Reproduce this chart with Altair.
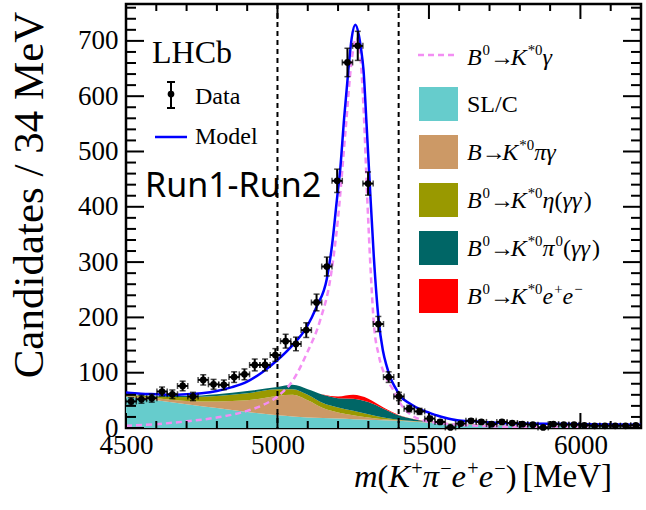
import altair as alt
import pandas as pd

SERIF = "Liberation Serif"

# ---- binned candidates (34 MeV bins from 4500 MeV) ----
bin_lo = 4500
bin_w = 34
counts = [48, 52, 54, 66, 61, 76, 57, 87, 79, 78, 92, 97, 114, 114, 132, 157, 152, 177,
          227, 292, 447, 661, 691, 442, 188, 92, 57, 35, 30, 17, 11, 1, 8, 13, 11, 7,
          11, 9, 7, 6, 1, 7, 6, 6, 5, 4, 4, 4, 4, 5]
errors = [6.9, 7.2, 7.3, 8.1, 7.8, 8.7, 7.5, 9.3, 8.9, 8.8, 9.6, 9.8, 10.7, 10.7, 11.5,
          12.5, 12.3, 13.3, 15.1, 17.1, 21.1, 25.7, 26.3, 21.0, 13.7, 9.6, 7.5, 5.9, 5.5,
          4.1, 3.3, 1.0, 2.8, 3.6, 3.3, 2.6, 3.3, 3.0, 2.6, 2.4, 1.0, 2.6, 2.4, 2.4, 2.2,
          2.0, 2.0, 2.0, 2.0, 2.2]
centers = [bin_lo + bin_w / 2 + bin_w * i for i in range(len(counts))]

# ---- total fit model ----
model_m = [4500, 4550, 4600, 4650, 4700, 4750, 4800, 4850, 4900, 4950, 5000, 5050, 5095,
           5130, 5163, 5180, 5196, 5207, 5220, 5234, 5245, 5257, 5268, 5276, 5284, 5294,
           5304, 5318, 5334, 5348, 5361, 5372, 5390, 5405, 5438, 5470, 5504, 5550, 5593,
           5650, 5704, 5803, 6000, 6200]
model_v = [64, 62, 61, 60, 61, 63, 67, 74, 84, 101, 123, 150, 181,
           220, 270, 330, 412, 467, 560, 647, 705, 729, 712, 685, 647, 550,
           448, 310, 195, 140, 111, 92, 72, 58, 44, 34, 27, 19, 14,
           12, 10, 8, 7, 6]

# ---- B0 -> K*0 gamma component ----
sig_m = [4500, 4600, 4700, 4800, 4900, 4950, 5000, 5052, 5097, 5141, 5174, 5200, 5225,
         5245, 5260, 5272, 5284, 5296, 5308, 5318, 5335, 5355, 5382, 5405, 5438, 5480,
         5550, 5600, 5700, 5800, 6000, 6200]
sig_v = [4, 7, 12, 19, 31, 41, 57, 87, 135, 195, 268, 380, 540,
         665, 705, 680, 580, 420, 280, 190, 130, 95, 69, 45, 25, 14,
         8, 6, 3, 2, 1, 1]

# ---- stacked background components ----
comp_m = [4500, 4600, 4700, 4800, 4900, 5000, 5050, 5100, 5150, 5200, 5250, 5300, 5350,
          5400, 5450, 5500, 5600, 5800, 6000, 6200]
comp_names = ["SL/C", "B→K*0πγ", "B0→K*0η(γγ)", "B0→K*0π0(γγ)", "B0→K*0e+e−"]
comp_colors = ["#66cccc", "#cc9966", "#999900", "#006666", "#ff0000"]
comp_vals = [
    [57, 50, 43, 36, 29, 23, 21, 19, 18, 17, 16, 15, 14, 13, 11.5, 10, 7, 3.5, 2, 1],
    [1, 4, 6, 12, 21, 35, 39, 31, 18, 11, 7, 4, 2, 1, 0.5, 0.5, 0.3, 0.2, 0.1, 0.05],
    [2, 3, 7, 10, 13, 12, 10, 10, 9, 9, 8, 6, 3, 1, 0.5, 0.3, 0.2, 0.1, 0.05, 0.05],
    [0.5, 1, 2, 3, 4, 4, 8, 10, 15, 17, 22, 22, 16, 8, 3.5, 0.7, 0.5, 0.2, 0.15, 0.1],
    [0, 0, 0, 0, 0, 0, 0, 0, 0.5, 3, 7, 6, 2, 0.5, 0.2, 0.1, 0, 0, 0, 0],
]

# ---- signal window and axis ticks ----
window_edges = [5000, 5400]
x_major = [4500, 5000, 5500, 6000]
x_minor = [m for m in range(4600, 6200, 100) if m % 500]
y_major = [0, 100, 200, 300, 400, 500, 600, 700]
y_minor = [v for v in range(20, 766, 20) if v % 100]

W, H = 515, 424
X_DOMAIN = [4500, 6200]
Y_DOMAIN = [0, 766.7]

xs = alt.Scale(domain=X_DOMAIN, nice=False, zero=False)
ys = alt.Scale(domain=Y_DOMAIN, nice=False, zero=True)
x_axis = alt.Axis(values=x_major, format="d", title=None, ticks=False, domain=False, grid=False,
                  labelFont=SERIF, labelFontSize=27, labelColor="black", labelPadding=4,
                  labelFlush=False)
y_axis = alt.Axis(values=y_major, format="d", title=None, ticks=False, domain=False, grid=False,
                  labelFont=SERIF, labelFontSize=27, labelColor="black", labelPadding=8,
                  labelFlush=False)


def X(field):
    return alt.X(field, type="quantitative", scale=xs, axis=x_axis)


def Y(field, **kw):
    return alt.Y(field, type="quantitative", scale=ys, axis=y_axis, **kw)


# tables
data_df = pd.DataFrame({"m": centers, "n": counts, "err": errors})
model_df = pd.DataFrame({"m": model_m, "v": model_v})
sig_df = pd.DataFrame({"m": sig_m, "v": sig_v})
comp_rows = []
for k, (name, vals) in enumerate(zip(comp_names, comp_vals)):
    for m, v in zip(comp_m, vals):
        comp_rows.append({"m": m, "v": v, "name": name, "idx": k})
comp_df = pd.DataFrame(comp_rows)

# stacked background components
areas = alt.Chart(comp_df).mark_area(interpolate="monotone", clip=True).encode(
    x=X("m"),
    y=Y("v", stack="zero"),
    color=alt.Color("name:N", scale=alt.Scale(domain=comp_names, range=comp_colors), legend=None),
    order=alt.Order("idx:Q"),
)

signal = alt.Chart(sig_df).mark_line(
    interpolate="monotone", color="#f38ef3", strokeWidth=2.5, strokeDash=[6, 4], clip=True
).encode(x=X("m"), y=Y("v"))

model = alt.Chart(model_df).mark_line(
    interpolate="monotone", color="#0000ff", strokeWidth=2.5, clip=True
).encode(x=X("m"), y=Y("v"))

# signal window
win = alt.Chart(pd.DataFrame({"m": window_edges})).mark_rule(
    color="black", strokeWidth=2, strokeDash=[5, 4]
).encode(x=X("m"), y=alt.value(0), y2=alt.value(H))

# data points with error bars
pts_base = alt.Chart(data_df).transform_calculate(
    lo="datum.n - datum.err", hi="datum.n + datum.err",
    mlo=f"datum.m - {bin_w / 2}", mhi=f"datum.m + {bin_w / 2}",
)
vbar = pts_base.mark_rule(color="black", strokeWidth=2).encode(x=X("m"), y=Y("lo"), y2="hi:Q")
hbar = pts_base.mark_rule(color="black", strokeWidth=2).encode(x=X("mlo"), x2="mhi:Q", y=Y("n"))
cap_top = pts_base.mark_tick(color="black", orient="horizontal", size=6, thickness=1.5).encode(x=X("m"), y=Y("hi"))
cap_bot = pts_base.mark_tick(color="black", orient="horizontal", size=6, thickness=1.5).encode(x=X("m"), y=Y("lo"))
cap_l = pts_base.mark_tick(color="black", orient="vertical", size=6, thickness=1.5).encode(x=X("mlo"), y=Y("n"))
cap_r = pts_base.mark_tick(color="black", orient="vertical", size=6, thickness=1.5).encode(x=X("mhi"), y=Y("n"))
dots = pts_base.mark_circle(color="black", size=45, opacity=1).encode(x=X("m"), y=Y("n"))


# inward ticks on all four sides
def yticks(vals, length):
    df = pd.DataFrame({"v": vals})
    left = alt.Chart(df).mark_rule(color="black", strokeWidth=2).encode(
        y=Y("v"), x=alt.value(0), x2=alt.value(length))
    right = alt.Chart(df).mark_rule(color="black", strokeWidth=2).encode(
        y=Y("v"), x=alt.value(W - length), x2=alt.value(W))
    return [left, right]


def xticks(vals, length):
    df = pd.DataFrame({"m": vals})
    bottom = alt.Chart(df).mark_rule(color="black", strokeWidth=2).encode(
        x=X("m"), y=alt.value(H - length), y2=alt.value(H))
    top = alt.Chart(df).mark_rule(color="black", strokeWidth=2).encode(
        x=X("m"), y=alt.value(0), y2=alt.value(length))
    return [bottom, top]


ticks = yticks(y_major, 18) + yticks(y_minor, 10) + xticks(x_major, 15) + xticks(x_minor, 7)

one = pd.DataFrame({"a": [0]})


def label(text, x, y, size=24, font=SERIF, style="normal", align="left", baseline="middle", angle=0):
    kw = dict(text=text, font=font, fontSize=size, fontStyle=style, align=align,
              baseline=baseline, color="black")
    if angle:
        kw["angle"] = angle
    return alt.Chart(one).mark_text(**kw).encode(x=alt.value(x), y=alt.value(y))


# approximate advance widths (em) of the serif face, used to lay out
# formulas made of italic, upright and superscript pieces
ADV_UP = {"(": 0.333, ")": 0.333, "[": 0.333, "]": 0.333, "→": 0.86, "*": 0.5, "0": 0.5,
          "+": 0.564, "−": 0.564, "M": 0.889, "e": 0.444, "V": 0.722, "S": 0.556,
          "L": 0.611, "/": 0.278, "C": 0.667, " ": 0.25}
ADV_IT = {"B": 0.611, "K": 0.667, "m": 0.722, "e": 0.444, "γ": 0.44, "π": 0.5, "η": 0.5}
SUP_SCALE = 0.62
ITALIC_KERN = 0.04


def formula(pieces, x, baseline_y, size, raise_em=0.42):
    """pieces: list of (text, kind); kind is 'i' italic, 'n' upright, 's' superscript."""
    layers = []
    cx = x
    prev = None
    for text, kind in pieces:
        if kind == "s":
            if prev == "i":
                cx += ITALIC_KERN * size
            fs = size * SUP_SCALE
            layers.append(label(text, cx, baseline_y - size * raise_em, size=fs,
                                baseline="alphabetic"))
            cx += sum(ADV_UP.get(c, 0.5) for c in text) * fs
        elif kind == "i":
            layers.append(label(text, cx, baseline_y, size=size, style="italic",
                                baseline="alphabetic"))
            cx += sum(ADV_IT.get(c, 0.5) for c in text) * size
        else:
            layers.append(label(text, cx, baseline_y, size=size, baseline="alphabetic"))
            cx += sum(ADV_UP.get(c, 0.5) for c in text) * size
        prev = kind
    return layers


B0 = [("B", "i"), ("0", "s"), ("→", "n"), ("K", "i"), ("*0", "s")]
key_formulas = [
    B0 + [("γ", "i")],
    [("SL/C", "n")],
    [("B", "i"), ("→", "n"), ("K", "i"), ("*0", "s"), ("πγ", "i")],
    B0 + [("η", "i"), ("(", "n"), ("γγ", "i"), (")", "n")],
    B0 + [("π", "i"), ("0", "s"), ("(", "n"), ("γγ", "i"), (")", "n")],
    B0 + [("e", "i"), ("+", "s"), ("e", "i"), ("−", "s")],
]
x_title = [("m", "i"), ("(", "n"), ("K", "i"), ("+", "s"), ("π", "i"), ("−", "s"),
           ("e", "i"), ("+", "s"), ("e", "i"), ("−", "s"), (")", "n")]

texts = [
    label("Candidates / 34 MeV", -96, 191, size=43, angle=270, align="center"),
    label("LHCb", 26, 59, size=32, baseline="alphabetic"),
    label("Data", 69, 93, size=24),
    label("Model", 69, 133, size=24),
    label("Run1-Run2", 19, 193, size=34, font="Noto Sans", baseline="alphabetic"),
    label("[MeV]", 486, 483, size=33, align="right", baseline="alphabetic"),
]
texts += formula(x_title, 228, 483, 32.5, raise_em=0.36)

# Data / Model keys
key_marks = [
    alt.Chart(one).mark_rule(color="black", strokeWidth=2).encode(
        x=alt.value(45), y=alt.value(78), y2=alt.value(104)),
    alt.Chart(one).mark_rule(color="black", strokeWidth=2).encode(
        x=alt.value(41), x2=alt.value(49), y=alt.value(78)),
    alt.Chart(one).mark_rule(color="black", strokeWidth=2).encode(
        x=alt.value(41), x2=alt.value(49), y=alt.value(104)),
    alt.Chart(one).mark_circle(color="black", size=45, opacity=1).encode(
        x=alt.value(45), y=alt.value(90)),
    alt.Chart(one).mark_rule(color="#0000ff", strokeWidth=2.5).encode(
        x=alt.value(29), x2=alt.value(61), y=alt.value(133)),
    alt.Chart(one).mark_rule(color="#f38ef3", strokeWidth=2.5, strokeDash=[6, 4]).encode(
        x=alt.value(292), x2=alt.value(329), y=alt.value(51)),
]

# component key on the right
key_y0 = 100
key_step = 48
texts += formula(key_formulas[0], 341, 61, 24)
for k, col in enumerate(comp_colors):
    cy = key_y0 + key_step * k
    key_marks.append(alt.Chart(one).mark_rect(color=col).encode(
        x=alt.value(293), x2=alt.value(332), y=alt.value(cy - 17), y2=alt.value(cy + 17)))
    texts += formula(key_formulas[k + 1], 341, cy + 8, 24)

chart = alt.layer(
    areas, signal, model, win, vbar, hbar, cap_top, cap_bot, cap_l, cap_r, dots,
    *ticks, *key_marks, *texts,
).properties(
    width=W, height=H,
    padding={"left": 126, "top": 4, "right": 5, "bottom": 82},
    autosize=alt.AutoSizeParams(type="none"),
    background="white",
).configure_view(stroke="black", strokeWidth=2.5)

chart.save("out.html", embed_options={"renderer": "svg", "actions": False})
